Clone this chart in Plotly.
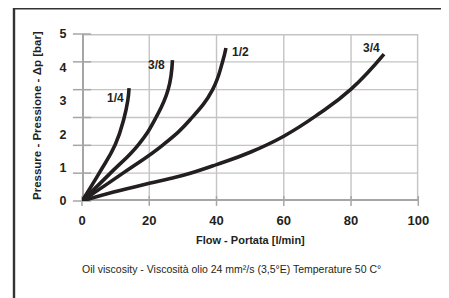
import plotly.graph_objects as go

# ---- data ----
size_labels = ["1/4", "3/8", "1/2", "3/4"]
flow_14 = [0, 5.2, 9.9, 12.5, 13.6, 14.0]
dp_14 = [0, 0.85, 1.69, 2.48, 3.0, 3.38]
flow_38 = [0, 8.6, 16.8, 22.0, 25.6, 26.9]
dp_38 = [0, 0.85, 1.69, 2.50, 3.33, 4.22]
flow_12 = [0, 12.4, 24.2, 32.2, 38.8, 41.8, 42.8]
dp_12 = [0, 0.85, 1.69, 2.44, 3.33, 4.17, 4.58]
flow_34 = [0, 9.4, 20, 26.2, 32.2, 40, 50, 60, 70, 80, 89.8]
dp_34 = [0, 0.27, 0.53, 0.67, 0.83, 1.09, 1.46, 1.94, 2.58, 3.35, 4.40]
x_ticks = [0, 20, 40, 60, 80, 100]
y_ticks = [0, 1, 2, 3, 4, 5]
y_grid = [0, 5 / 6, 10 / 6, 15 / 6, 20 / 6, 25 / 6, 5]   # grid lines of the original picture
x_range = [0, 100]
y_range = [0, 5]

series = [(flow_14, dp_14), (flow_38, dp_38), (flow_12, dp_12), (flow_34, dp_34)]
# label offsets (pixels) from the end of each curve
label_shift = [(-14, -10), (-16, -5), (15, -4), (-13, 6)]

FONT = "Liberation Sans, Arial, sans-serif"
INK = "#231f20"
GRID = "#c4c4c4"
AXIS = "#a6a6a6"

W, H = 441, 290          # the page body adds an 8px offset
fig = go.Figure()


def line(xs, ys, color, width, **kw):
    fig.add_trace(go.Scatter(x=xs, y=ys, mode="lines", line=dict(color=color, width=width),
                             showlegend=False, hoverinfo="skip", **kw))


# grid, one trace per line, through the data axes
for v in x_ticks:
    if v == x_range[0]:
        continue
    line([v, v], y_range, GRID, 2.8 if v == x_range[1] else 1.4)
for g in y_grid:
    if g == y_range[0]:
        continue
    line(x_range, [g, g], GRID, 2.8 if g == y_range[1] else 1.4)
# axis lines (left and bottom; half of the width is clipped)
line([x_range[0], x_range[0]], y_range, AXIS, 4)
line(x_range, [y_range[0], y_range[0]], AXIS, 4)
# tick marks
fig.add_trace(go.Scatter(x=[x_range[0]] * len(y_grid), y=y_grid, mode="markers", cliponaxis=False,
                         marker=dict(symbol="line-ew", size=13, line=dict(color=AXIS, width=1.5)),
                         showlegend=False, hoverinfo="skip"))
fig.add_trace(go.Scatter(x=x_ticks, y=[y_range[0]] * len(x_ticks), mode="markers", cliponaxis=False,
                         marker=dict(symbol="line-ns", size=7, line=dict(color=AXIS, width=1.5)),
                         showlegend=False, hoverinfo="skip"))

# curves
for (xs, ys) in series:
    fig.add_trace(go.Scatter(x=xs, y=ys, mode="lines",
                             line=dict(color=INK, width=3.6, shape="spline", smoothing=1.3),
                             showlegend=False, hoverinfo="skip"))

# outer frame on a full-figure helper subplot (pixel units)
line([6, 6], [0, 300], "#333333", 2.4, xaxis="x2", yaxis="y2")
line([6, 437.7], [0, 0], "#333333", 3, xaxis="x2", yaxis="y2")
line([437.7, 437.7], [0, 300], "#333333", 2.4, xaxis="x2", yaxis="y2")

annotations = []
for name, (xs, ys), (dx, dy) in zip(size_labels, series, label_shift):
    annotations.append(dict(x=xs[-1], y=ys[-1], xref="x", yref="y", text="<b>%s</b>" % name, showarrow=False,
                            xshift=dx, yshift=dy, font=dict(family=FONT, size=12, color=INK)))

annotations += [
    dict(x=242 / W, y=1 - 232 / H, xref="paper", yref="paper", text="<b>Flow - Portata [l/min]</b>",
         showarrow=False, xanchor="center", yanchor="middle", font=dict(family=FONT, size=11, color=INK)),
    dict(x=29 / W, y=1 - 108 / H, xref="paper", yref="paper", text="<b>Pressure - Pressione - Δp [bar]</b>",
         showarrow=False, textangle=-90, xanchor="center", yanchor="middle",
         font=dict(family=FONT, size=11.5, color=INK)),
    dict(x=223 / W, y=1 - 261 / H, xref="paper", yref="paper",
         text="Oil viscosity - Viscosità olio 24 mm²/s (3,5°E) Temperature 50 C°", showarrow=False,
         xanchor="center", yanchor="middle", font=dict(family=FONT, size=10.5, color=INK)),
]

fig.update_layout(
    template="none",
    width=W, height=H,
    margin=dict(l=0, r=0, t=0, b=0, pad=0, autoexpand=False),
    paper_bgcolor="white", plot_bgcolor="rgba(0,0,0,0)",
    xaxis=dict(domain=[74 / W, 410.3 / W], range=x_range, tickvals=x_ticks, automargin=False,
               ticktext=["<b>%d</b>" % v for v in x_ticks], showgrid=False, zeroline=False, showline=False,
               ticks="outside", ticklen=7, tickcolor="rgba(0,0,0,0)",
               tickfont=dict(family=FONT, size=13, color=INK)),
    yaxis=dict(domain=[1 - 193 / H, 1 - 26 / H], range=y_range, tickvals=y_ticks, automargin=False,
               ticktext=["<b>%d</b>" % v for v in y_ticks], showgrid=False, zeroline=False, showline=False,
               ticks="outside", ticklen=12, tickcolor="rgba(0,0,0,0)",
               tickfont=dict(family=FONT, size=12.5, color=INK)),
    xaxis2=dict(domain=[0, 1], range=[0, W], visible=False, anchor="y2", automargin=False),
    yaxis2=dict(domain=[0, 1], range=[H, 0], visible=False, anchor="x2", automargin=False),
    annotations=annotations,
)

fig.write_html("out.html")
